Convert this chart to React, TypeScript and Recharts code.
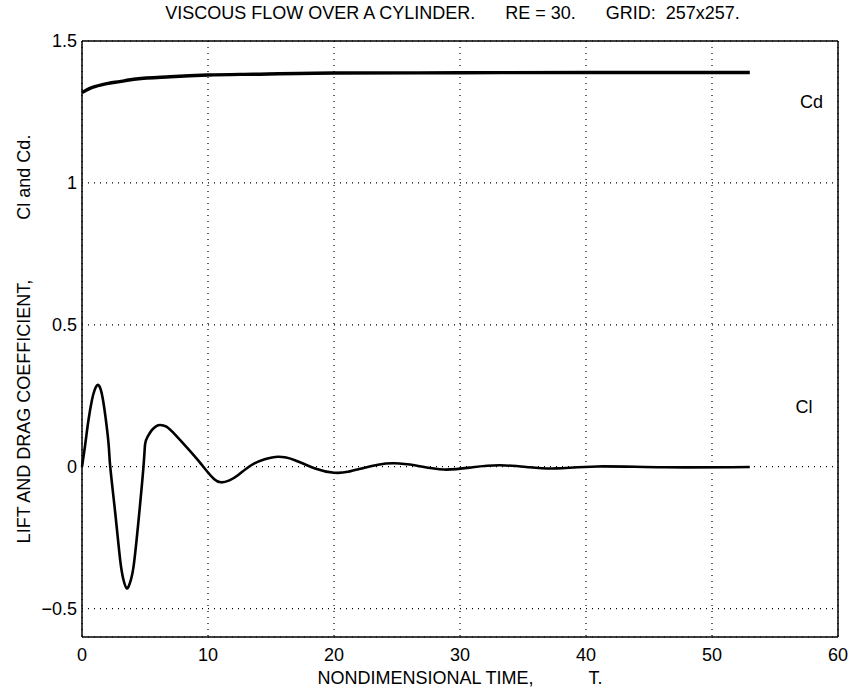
import React from 'react';
import { LineChart, Line, XAxis, YAxis, CartesianGrid, ReferenceDot, Label } from 'recharts';

// lift coefficient Cl(t)
const clTime = [0, 0.26, 0.5, 0.79, 1.0, 1.24, 1.5, 1.79, 2.11, 2.24, 2.64, 3.03, 3.3, 3.56, 3.8, 4.09, 4.49, 4.88, 5.01, 5.2, 5.54, 5.9, 6.2, 6.7, 7.39, 8.44, 9.3, 9.9, 10.5, 11.03, 11.7, 12.4, 13.46, 14.5, 15.57, 16.9, 18.5, 20.0, 21.1, 22.2, 23.5, 24.8, 26.5, 28.7, 31, 33.2, 35.5, 37.7, 40.9, 46.2, 53];
const clValue = [0, 0.08, 0.16, 0.235, 0.27, 0.288, 0.27, 0.2, 0.08, 0, -0.164, -0.329, -0.4, -0.429, -0.41, -0.352, -0.188, 0, 0.08, 0.105, 0.129, 0.143, 0.147, 0.141, 0.113, 0.062, 0.018, -0.015, -0.044, -0.055, -0.048, -0.029, 0.006, 0.026, 0.035, 0.023, -0.006, -0.021, -0.018, -0.006, 0.007, 0.012, 0.004, -0.01, -0.002, 0.005, -0.002, -0.006, 0.001, -0.002, -0.001];

// drag coefficient Cd(t)
const cdTime = [0, 0.63, 1.7, 3.0, 4.3, 7, 10, 13.6, 20, 30, 40, 53];
const cdValue = [1.318, 1.333, 1.347, 1.357, 1.366, 1.374, 1.38, 1.383, 1.387, 1.388, 1.389, 1.389];

const xTicks = [0, 10, 20, 30, 40, 50, 60];
const yTicks = [-0.5, 0, 0.5, 1, 1.5];

const clData = clTime.map((t, i) => ({ t, v: clValue[i] }));
const cdData = cdTime.map((t, i) => ({ t, v: cdValue[i] }));

const font = 'Liberation Sans, Arial, Helvetica, sans-serif';
const tickStyle = { fill: '#000', fontSize: 18, fontFamily: font };
const sp = '\u00a0';

export default function App() {
    return (
        <div style={{ position: 'absolute', left: 0, top: 0, width: 855, height: 693, background: '#fff', fontFamily: font }}>
            <div style={{ position: 'absolute', left: 0, top: 3, width: 905, textAlign: 'center', fontSize: 18, whiteSpace: 'pre' }}>
                {'VISCOUS FLOW OVER A CYLINDER.      RE = 30.      GRID:  257x257.'}
            </div>
            <LineChart width={855} height={693} margin={{ top: 41, right: 17, left: 22, bottom: 26 }}>
                <CartesianGrid stroke="#000" strokeDasharray="1 5" strokeWidth={1.2} />
                <XAxis
                    dataKey="t"
                    type="number"
                    domain={[0, 60]}
                    ticks={xTicks}
                    height={30}
                    tickLine={false}
                    tickSize={0}
                    tickMargin={11}
                    axisLine={{ stroke: '#000', strokeWidth: 1.5 }}
                    tick={tickStyle}
                    allowDuplicatedCategory={false}
                >
                    <Label value={`NONDIMENSIONAL TIME,${sp.repeat(11)}T.`} position="bottom" offset={4} style={{ fill: '#000', fontSize: 18, fontFamily: font }} />
                </XAxis>
                <XAxis xAxisId="bt" type="number" dataKey="t" domain={[0, 60]} ticks={xTicks} orientation="bottom" mirror height={1} tick={false} tickSize={6} axisLine={false} tickLine={{ stroke: '#000' }} />
                <XAxis xAxisId="tp" type="number" dataKey="t" domain={[0, 60]} ticks={xTicks} orientation="top" mirror height={1} tick={false} tickSize={6} axisLine={{ stroke: '#000', strokeWidth: 1.5 }} tickLine={{ stroke: '#000' }} />
                <YAxis
                    type="number"
                    domain={[-0.6, 1.5]}
                    ticks={yTicks}
                    width={60}
                    tickLine={false}
                    tickSize={0}
                    tickMargin={5}
                    axisLine={{ stroke: '#000', strokeWidth: 1.5 }}
                    tick={tickStyle}
                    tickFormatter={(v: number) => (v < 0 ? '\u2212' + Math.abs(v) : String(v))}
                >
                    <Label value={`LIFT AND DRAG COEFFICIENT,${sp.repeat(12)}Cl and Cd.`} angle={-90} position="insideLeft" offset={2} style={{ fill: '#000', fontSize: 18, fontFamily: font, textAnchor: 'middle' }} />
                </YAxis>
                <YAxis yAxisId="lt" type="number" domain={[-0.6, 1.5]} ticks={yTicks} orientation="left" mirror width={1} tick={false} tickSize={6} axisLine={false} tickLine={{ stroke: '#000' }} />
                <YAxis yAxisId="rt" type="number" domain={[-0.6, 1.5]} ticks={yTicks} orientation="right" mirror width={1} tick={false} tickSize={6} axisLine={{ stroke: '#000', strokeWidth: 1.5 }} tickLine={{ stroke: '#000' }} />
                <Line data={cdData} dataKey="v" type="monotone" stroke="#000" strokeWidth={3.4} dot={false} isAnimationActive={false} />
                <Line data={clData} dataKey="v" type="natural" stroke="#000" strokeWidth={2.6} dot={false} isAnimationActive={false} />
                <ReferenceDot x={57.9} y={1.285} r={0} fill="none" stroke="none">
                    <Label value="Cd" position="center" style={{ fill: '#000', fontSize: 18, fontFamily: font }} />
                </ReferenceDot>
                <ReferenceDot x={57.3} y={0.211} r={0} fill="none" stroke="none">
                    <Label value="Cl" position="center" style={{ fill: '#000', fontSize: 18, fontFamily: font }} />
                </ReferenceDot>
            </LineChart>
        </div>
    );
}
